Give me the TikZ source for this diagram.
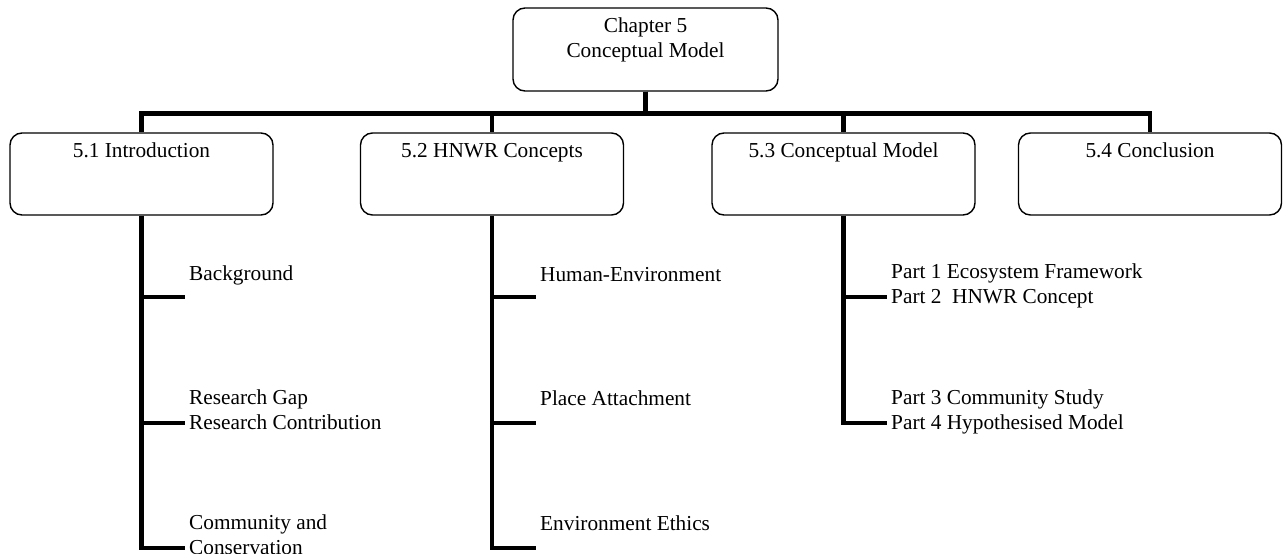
\documentclass[tikz,border=0pt]{standalone}
\usepackage{fontspec}
\setmainfont{Liberation Serif}
\begin{document}
\begin{tikzpicture}[x=1pt,y=1pt,
  box/.style={draw, line width=1.4pt, rounded corners=12pt,
    minimum width=263pt, minimum height=82pt, inner sep=0pt},
  trunk/.style={line width=4.8pt},
  title/.style={anchor=base, inner sep=0pt, align=center,
    font=\fontsize{21.3}{25}\selectfont},
  leaf/.style={anchor=base west, inner sep=0pt, align=left,
    font=\fontsize{21.3}{24.5}\selectfont}]
\useasboundingbox (0,0) rectangle (1285,-554);

% chapter box and section boxes
\node[box, minimum width=265pt, minimum height=83pt] (ch) at (645.5,-49.5) {};
% the base of a two-line title is the baseline of its last line
\node[title] (cht) at ([yshift=-50pt]ch.north) {Chapter 5\\Conceptual Model};

\node[box] (s1) at (141.5,-174) {};
\node[box] (s2) at (492,-174) {};
\node[box] (s3) at (843.5,-174) {};
\node[box] (s4) at (1150,-174) {};
\node[title] (s1t) at ([yshift=-25pt]s1.north) {5.1 Introduction};
\node[title] (s2t) at ([yshift=-25pt]s2.north) {5.2 HNWR Concepts};
\node[title] (s3t) at ([yshift=-25pt]s3.north) {5.3 Conceptual Model};
\node[title] (s4t) at ([yshift=-25pt]s4.north) {5.4 Conclusion};

% chapter to sections
\foreach \s in {s1,s2,s3,s4}
  \draw[trunk] (ch.south) -- ++(0,-22) -| (\s.north);

% tick ends of the sub-topic lists
\coordinate (t11) at (185,-297);
\coordinate (t12) at (185,-423);
\coordinate (t13) at (185,-548);
\coordinate (t21) at (536,-297);
\coordinate (t22) at (536,-423);
\coordinate (t23) at (536,-548);
\coordinate (t31) at (887,-297);
\coordinate (t32) at (887,-423);

% section 5.1 list
\draw[trunk] (s1.south) |- (t13);
\draw[trunk] (s1.south |- t11) -- (t11);
\draw[trunk] (s1.south |- t12) -- (t12);
\node[leaf] (l11) at ([xshift=4pt,yshift=17pt]t11) {Background};
\node[leaf] (l12) at ([xshift=4pt,yshift=-6pt]t12) {Research Gap\\Research Contribution};
\node[leaf] (l13) at ([xshift=4pt,yshift=-6pt]t13) {Community and\\Conservation};

% section 5.2 list
\draw[trunk] (s2.south) |- (t23);
\draw[trunk] (s2.south |- t21) -- (t21);
\draw[trunk] (s2.south |- t22) -- (t22);
\node[leaf] (l21) at ([xshift=4pt,yshift=16pt]t21) {Human-Environment};
\node[leaf] (l22) at ([xshift=4pt,yshift=18pt]t22) {Place Attachment};
\node[leaf] (l23) at ([xshift=4pt,yshift=18pt]t23) {Environment Ethics};

% section 5.3 list
\draw[trunk] (s3.south) |- (t32);
\draw[trunk] (s3.south |- t31) -- (t31);
\node[leaf] (l31) at ([xshift=4pt,yshift=-6pt]t31) {Part 1 Ecosystem Framework\\Part 2\ \ HNWR Concept};
\node[leaf] (l32) at ([xshift=4pt,yshift=-6pt]t32) {Part 3 Community Study\\Part 4 Hypothesised Model};
\end{tikzpicture}
\end{document}
